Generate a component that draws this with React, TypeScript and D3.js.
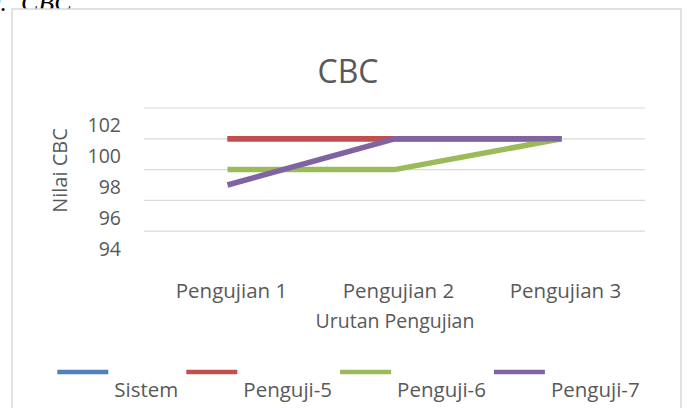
import React, { useEffect, useRef } from "react";
import { select, scalePoint, scaleLinear, line } from "d3";

const categories = ["Pengujian 1", "Pengujian 2", "Pengujian 3"];
const sistem = [102, 102, 102];
const penguji5 = [102, 102, 102];
const penguji6 = [100, 100, 102];
const penguji7 = [99, 102, 102];
const yTicks = [94, 96, 98, 100, 102];
const gridTicks = [96, 98, 100, 102, 104];

const series = [
  { name: "Sistem", values: sistem, color: "#4f81bd" },
  { name: "Penguji-5", values: penguji5, color: "#c0504d" },
  { name: "Penguji-6", values: penguji6, color: "#9bbb59" },
  { name: "Penguji-7", values: penguji7, color: "#8064a2" },
];

const font = "'Open Sans', sans-serif";
const textColor = "#595959";

const App = () => {
  const svgRef = useRef<SVGSVGElement>(null);

  useEffect(() => {
    const svg = select(svgRef.current);
    svg.selectAll("*").remove();

    const xScale = scalePoint().domain(categories).range([144, 645]).padding(0.5);
    const yScale = scaleLinear().domain([94, 104]).range([262, 108]);

    // caption above the chart box (cut off in the page)
    svg.append("text").attr("x", 7).attr("y", 11).attr("text-anchor", "end")
      .attr("font-family", "'Liberation Serif', serif").attr("font-style", "italic")
      .attr("font-size", 26).attr("fill", "#000").text("9.");
    svg.append("text").attr("x", 21).attr("y", 11)
      .attr("font-family", "'Liberation Serif', serif").attr("font-style", "italic")
      .attr("font-size", 26).attr("fill", "#000").text("CBC");

    // chart border
    svg.append("rect").attr("x", 12).attr("y", 9).attr("width", 669).attr("height", 430)
      .attr("fill", "#fff").attr("stroke", "#d9d9d9").attr("stroke-width", 1.5);

    // title
    svg.append("text").attr("x", 348).attr("y", 83).attr("text-anchor", "middle")
      .attr("font-family", font).attr("font-size", 32).attr("fill", textColor).text("CBC");

    // gridlines
    svg.selectAll(".grid").data(gridTicks).join("line").attr("class", "grid")
      .attr("x1", 144).attr("x2", 645)
      .attr("y1", (d) => yScale(d)).attr("y2", (d) => yScale(d))
      .attr("stroke", "#d9d9d9").attr("stroke-width", 1.2);

    // y tick labels (sit a bit above their gridlines, as in the source)
    svg.selectAll(".ytick").data(yTicks).join("text").attr("class", "ytick")
      .attr("x", 121).attr("y", (d) => yScale(d) - 6.5).attr("text-anchor", "end")
      .attr("font-family", font).attr("font-size", 19.5).attr("fill", textColor)
      .text((d) => d);

    // y axis title
    svg.append("text").attr("transform", "translate(67,170.5) rotate(-90)")
      .attr("text-anchor", "middle").attr("font-family", font).attr("font-size", 20)
      .attr("fill", textColor).text("Nilai CBC");

    // x labels
    svg.selectAll(".xtick").data(categories).join("text").attr("class", "xtick")
      .attr("x", (d) => (xScale(d) as number) + 4).attr("y", 298).attr("text-anchor", "middle")
      .attr("font-family", font).attr("font-size", 20.5).attr("fill", textColor)
      .text((d) => d);

    svg.append("text").attr("x", 395).attr("y", 328).attr("text-anchor", "middle")
      .attr("font-family", font).attr("font-size", 19.5).attr("fill", textColor)
      .text("Urutan Pengujian");

    // lines
    const lineGen = line<number>()
      .x((_, i) => xScale(categories[i]) as number)
      .y((d) => yScale(d));
    svg.selectAll(".series").data(series).join("path").attr("class", "series")
      .attr("d", (s) => lineGen(s.values))
      .attr("fill", "none").attr("stroke", (s) => s.color)
      .attr("stroke-width", 5.5).attr("stroke-linejoin", "round");

    // legend, laid out by measured text widths and centered
    const lg = svg.append("g");
    let x = 0;
    series.forEach((s) => {
      lg.append("line").attr("x1", x).attr("x2", x + 51).attr("y1", 372).attr("y2", 372)
        .attr("stroke", s.color).attr("stroke-width", 4.5);
      const t = lg.append("text").attr("x", x + 57).attr("y", 397)
        .attr("font-family", font).attr("font-size", 20.5).attr("fill", textColor).text(s.name);
      const w = (t.node() as SVGTextElement).getComputedTextLength();
      x += 57 + w + 8;
    });
    const total = x - 8;
    lg.attr("transform", `translate(${348.5 - total / 2},0)`);
  }, []);

  return (
    <svg
      ref={svgRef}
      width={688}
      height={408}
      style={{ position: "fixed", left: 0, top: 0, display: "block", background: "#fff" }}
    />
  );
};

export default App;
